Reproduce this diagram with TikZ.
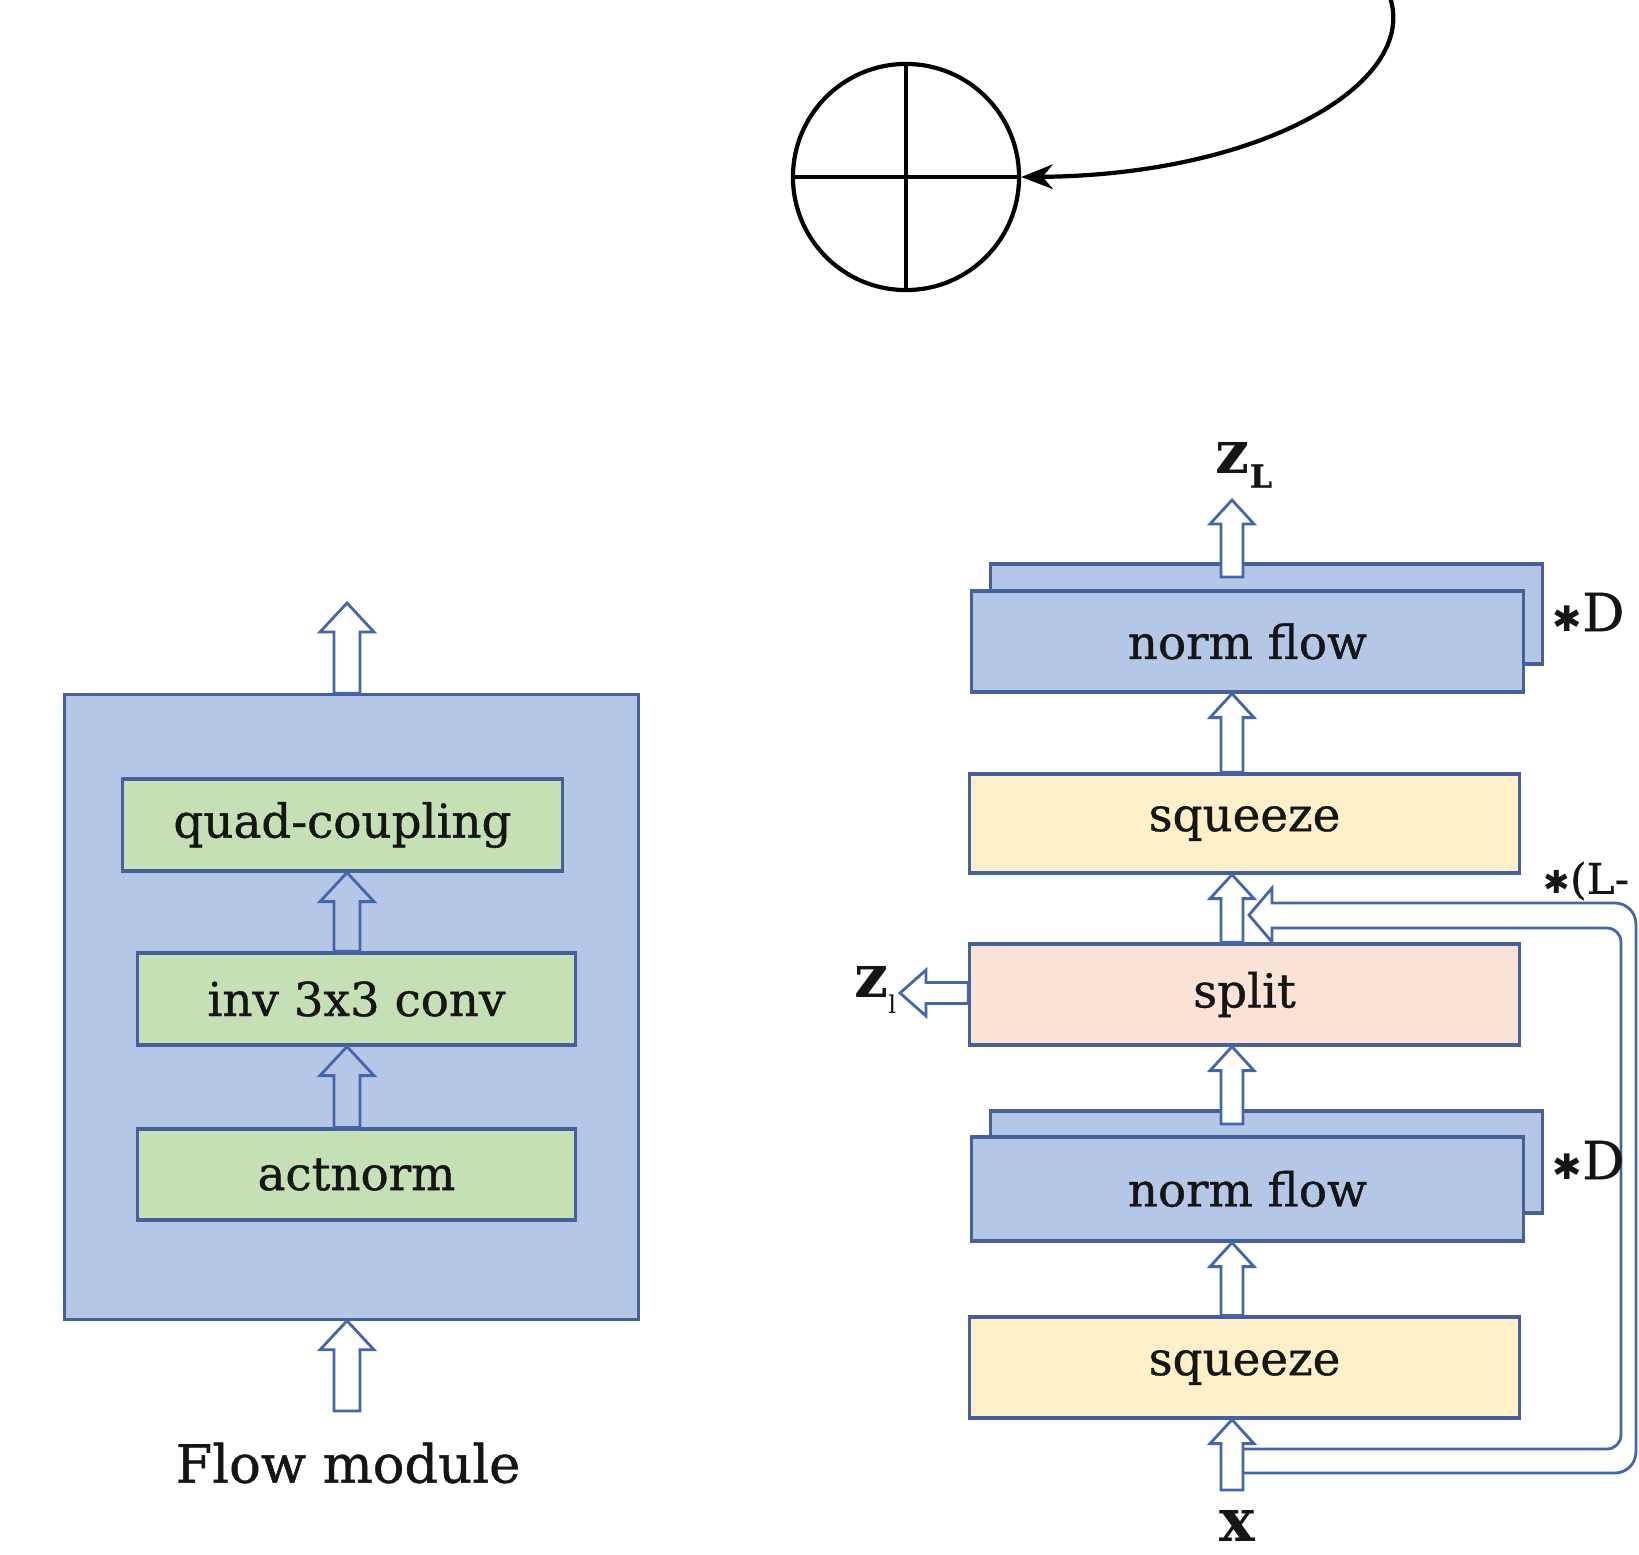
\documentclass[tikz,border=0pt]{standalone}
\usepackage{fontspec}
\setmainfont{DejaVu Serif}
\newfontfamily\heavyf[FakeBold=0.8]{DejaVu Serif}
\newfontfamily\symf{DejaVu Sans}
\usetikzlibrary{calc,arrows.meta}
\definecolor{boxblue}{HTML}{B4C7E7}
\definecolor{bordc}{HTML}{46619A}
\definecolor{arrc}{HTML}{4466AA}
\definecolor{grn}{HTML}{C5E0B4}
\definecolor{ylw}{HTML}{FFF0C9}
\definecolor{slm}{HTML}{FBE3D6}
\definecolor{txt}{HTML}{151515}
\newcommand\hup[6]{\draw[arrowline,fill=#1] ($(#2)+(-#4,0)$) -- ($(#3)+(-#4,#6)$) -- ($(#3)+(-#5,#6)$) -- (#3) -- ($(#3)+(#5,#6)$) -- ($(#3)+(#4,#6)$) -- ($(#2)+(#4,0)$) -- cycle;}
\tikzset{
  arrowline/.style={draw=arrc, line width=0.8pt},
  blk/.style={draw=bordc, line width=0.9pt, rectangle, inner sep=0pt, text=txt,
     font=\heavyf\fontsize{13.3}{16}\selectfont},
  lbl/.style={inner sep=0pt, text=txt},
}
\begin{document}
\begin{tikzpicture}[x=0.01cm,y=-0.01cm]
\useasboundingbox (0,0) rectangle (1639,1554);
% ---------- top: circle with cross ----------
\node[circle, draw, line width=1.2pt, minimum size=2.26cm, inner sep=0pt] (circ) at (906,177) {};
\draw[line width=1.2pt] (circ.west) -- (circ.east);
\draw[line width=1.2pt] (circ.north) -- (circ.south);
\coordinate (cs) at (1388,-8);
\draw[line width=1.2pt, -{Stealth[length=9pt,width=7pt]}] (cs) .. controls (1425,80) and (1265,175) .. (circ.east);
% ---------- left: flow module ----------
\node[blk, fill=boxblue, minimum width=5.73cm, minimum height=6.24cm] (big) at (351.5,1007) {};
\node[blk, fill=grn, minimum width=4.39cm, minimum height=0.92cm] (quad) at (342.5,825) {quad-coupling};
\node[blk, fill=grn, minimum width=4.37cm, minimum height=0.92cm] (inv) at (356.5,999) {inv 3x3 conv};
\node[blk, fill=grn, minimum width=4.37cm, minimum height=0.91cm] (act) at (356.5,1174.5) {actnorm};
\coordinate (lax) at (347,0);
\coordinate (lOutTip) at (347,603);
\coordinate (lInTail) at (347,1411);
\coordinate (lt1) at (lax |- big.north);
\coordinate (lt2) at (lax |- inv.north);
\coordinate (lh2) at (lax |- quad.south);
\coordinate (lt3) at (lax |- act.north);
\coordinate (lh3) at (lax |- inv.south);
\coordinate (lh4) at (lax |- big.south);
\hup{white}{lt1}{lOutTip}{13}{27}{29}
\hup{boxblue}{lt2}{lh2}{13}{27}{29}
\hup{boxblue}{lt3}{lh3}{13}{27}{29}
\hup{white}{lInTail}{lh4}{13}{27}{29}
\node[lbl, font=\heavyf\fontsize{15}{18}\selectfont] (flowlbl) at (348,1463) {Flow module};
% ---------- right: multi-scale ----------
\node[blk, fill=boxblue, minimum width=5.51cm, minimum height=1.00cm] (nfTb) at (1266.5,614) {};
\node[blk, fill=boxblue, minimum width=5.51cm, minimum height=1.01cm] (nfT) at (1247.5,641.5) {norm flow};
\node[blk, fill=ylw, minimum width=5.49cm, minimum height=0.99cm] (sqT) at (1244.5,823.5) {squeeze};
\node[blk, fill=slm, minimum width=5.49cm, minimum height=1.01cm] (split) at (1244.5,994.5) {split};
\node[blk, fill=boxblue, minimum width=5.51cm, minimum height=1.02cm] (nfBb) at (1266.5,1162) {};
\node[blk, fill=boxblue, minimum width=5.51cm, minimum height=1.04cm] (nfB) at (1247.5,1189) {norm flow};
\node[blk, fill=ylw, minimum width=5.49cm, minimum height=1.01cm] (sqB) at (1244.5,1367.5) {squeeze};
% loop (double line) from x input back to split output
\draw[arrowline, fill=white] (1243,1449) [rounded corners=4pt] -- (1621,1449) -- (1621,928) [sharp corners] -- (1272,928) -- (1272,942) -- (1249,915) -- (1272,888) -- (1272,903) [rounded corners=6pt] -- (1636,903) -- (1636,1473) [sharp corners] -- (1243,1473);
\coordinate (rax) at (1232,0);
\coordinate (zTail) at (1232,577);
\coordinate (zTip) at (1232,500);
\coordinate (r2t) at (rax |- sqT.north);
\coordinate (r2h) at (rax |- nfT.south);
\coordinate (r3t) at (rax |- split.north);
\coordinate (r3h) at (rax |- sqT.south);
\coordinate (r4t) at (1232,1124);
\coordinate (r4h) at (rax |- split.south);
\coordinate (r5t) at (rax |- sqB.north);
\coordinate (r5h) at (rax |- nfB.south);
\coordinate (xTail) at (1232,1490);
\coordinate (r6h) at (rax |- sqB.south);
\hup{white}{zTail}{zTip}{11}{22}{24}
\hup{white}{r2t}{r2h}{11}{22}{24}
\hup{white}{r3t}{r3h}{11}{22}{24}
\hup{white}{r4t}{r4h}{11}{22}{24}
\hup{white}{r5t}{r5h}{11}{22}{24}
\hup{white}{xTail}{r6h}{11}{22}{24}
% z_l output arrow (left)
\coordinate (zlTail) at (split.west |- 0,993);
\coordinate (zlTip) at (900,993);
\draw[arrowline, fill=white] ($(zlTail)+(0,-10.5)$) -- ($(zlTip)+(26,-10.5)$) -- ($(zlTip)+(26,-23)$) -- (zlTip) -- ($(zlTip)+(26,23)$) -- ($(zlTip)+(26,10.5)$) -- ($(zlTail)+(0,10.5)$) -- cycle;
% labels
\node[lbl] (zL) at (1244,465) {\fontsize{17}{20}\selectfont\bfseries z\raisebox{-0.45ex}{\fontsize{9}{10}\selectfont\heavyf L}};
\node[lbl, anchor=east] (zl) at (897,990) {\fontsize{17}{20}\selectfont\bfseries z\raisebox{-0.5ex}{\fontsize{7}{8}\selectfont\mdseries l}};
\node[lbl] (xlbl) at (1237,1526) {\fontsize{17}{20}\selectfont\bfseries x};
\node[lbl, anchor=west] (dT) at (1552,612) {{\symf\bfseries\fontsize{10}{10}\selectfont ✱}\heavyf\fontsize{15}{18}\selectfont D};
\node[lbl, anchor=west] (dB) at (1552,1160) {{\symf\bfseries\fontsize{10}{10}\selectfont ✱}\heavyf\fontsize{15}{18}\selectfont D};
\node[lbl, anchor=west] (lm) at (1543,881) {{\symf\bfseries\fontsize{9}{9}\selectfont ✱}\heavyf\fontsize{12}{14}\selectfont(L-};
\end{tikzpicture}
\end{document}
